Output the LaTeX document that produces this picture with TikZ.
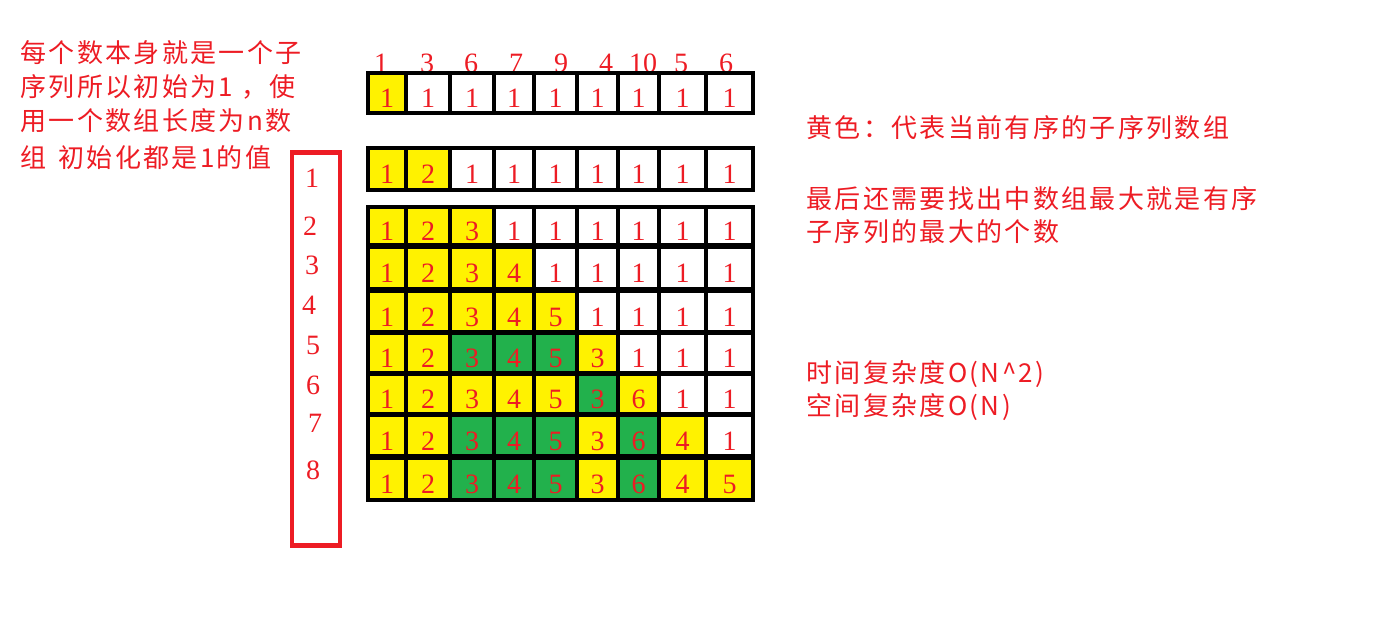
\documentclass[tikz,border=0pt]{standalone}
\usepackage{fontspec}
\setmainfont{Liberation Serif}
\newfontfamily\cjk[LetterSpace=9]{Noto Sans CJK SC}
\usetikzlibrary{positioning}
\definecolor{paintred}{RGB}{237,28,36}
\definecolor{cellY}{RGB}{255,242,0}
\definecolor{cellG}{RGB}{34,177,76}
\definecolor{cellW}{RGB}{255,255,255}
% one row of the dp array: #1 name, #2 top, #3 bottom, #4 fill/value pairs
\newcommand{\dprow}[4]{%
  \foreach \f/\v [count=\c] in {#4} {
    \pgfmathsetmacro\xl{{368,406,450,494,534,577,618,659,706}[\c-1]}
    \pgfmathsetmacro\xr{{406,450,494,534,577,618,659,706,753}[\c-1]}
    \pgfmathsetmacro\cellw{(\xr-\xl)/2}
    \pgfmathsetmacro\cellh{(#3-#2)/2}
    \node[cell, fill=cell\f, minimum width=\cellw pt, minimum height=\cellh pt]
      (#1-\c) at ({(\xl+\xr)/2},{(#2+#3)/2}) {\v};
  }
}

\begin{document}
\begin{tikzpicture}[x=0.5pt,y=-0.5pt,
  cell/.style={draw=black, line width=1.75pt, inner sep=0pt, text=paintred,
    font=\fontsize{14}{14}\selectfont, text height=14.5pt, text depth=0pt},
  num/.style={text=paintred, inner sep=0pt, font=\fontsize{14}{14}\selectfont},
  txt/.style={text=paintred, inner sep=0pt, anchor=base west,
    font=\cjk\fontsize{13}{15}\selectfont}]
\useasboundingbox (0,0) rectangle (1379,620);

% input sequence
\foreach \x/\v [count=\c] in {381/1,427/3,471/6,516/7,561/9,606/4,643/10,681/5,726/6}
  \node[num] (h\c) at (\x,63) {\v};

% dp rows
\dprow{r1}{73}{113}{Y/1,W/1,W/1,W/1,W/1,W/1,W/1,W/1,W/1}
\dprow{r2}{148}{190}{Y/1,Y/2,W/1,W/1,W/1,W/1,W/1,W/1,W/1}
\dprow{r3}{207}{245}{Y/1,Y/2,Y/3,W/1,W/1,W/1,W/1,W/1,W/1}
\dprow{r4}{247}{289}{Y/1,Y/2,Y/3,Y/4,W/1,W/1,W/1,W/1,W/1}
\dprow{r5}{291}{332}{Y/1,Y/2,Y/3,Y/4,Y/5,W/1,W/1,W/1,W/1}
\dprow{r6}{333}{373}{Y/1,Y/2,G/3,G/4,G/5,Y/3,W/1,W/1,W/1}
\dprow{r7}{374}{414}{Y/1,Y/2,Y/3,Y/4,Y/5,G/3,Y/6,W/1,W/1}
\dprow{r8}{415}{456}{Y/1,Y/2,G/3,G/4,G/5,Y/3,G/6,Y/4,W/1}
\dprow{r9}{458}{500}{Y/1,Y/2,G/3,G/4,G/5,Y/3,G/6,Y/4,Y/5}

% step index
\node[draw=paintred, line width=2.25pt, inner sep=0pt, minimum width=24pt,
  minimum height=196.5pt] (idxbox) at (316,349) {};
\foreach \x/\y [count=\c] in {312/178,310/226,312/265,309/305,313/345,313/385,315/423,313/470}
  \node[num] (i\c) at (\x,\y) {\c};

% notes
\node[txt] (noteA1) at (20,63) {每个数本身就是一个子};
\node[txt] (noteA2) at (20,97) {序列所以初始为1 ，使};
\node[txt] (noteA3) at (20,131) {用一个数组长度为n数};
\node[txt] (noteA4) at (20,168) {组\hspace{6pt}初始化都是1的值};
\node[txt] (noteB) at (806,138) {黄色：代表当前有序的子序列数组};
\node[txt] (noteC1) at (806,208) {最后还需要找出中数组最大就是有序};
\node[txt] (noteC2) at (806,242) {子序列的最大的个数};
\node[txt] (noteD1) at (806,382) {时间复杂度O(N\textasciicircum2)};
\node[txt] (noteD2) at (806,415) {空间复杂度O(N)};
\end{tikzpicture}
\end{document}
